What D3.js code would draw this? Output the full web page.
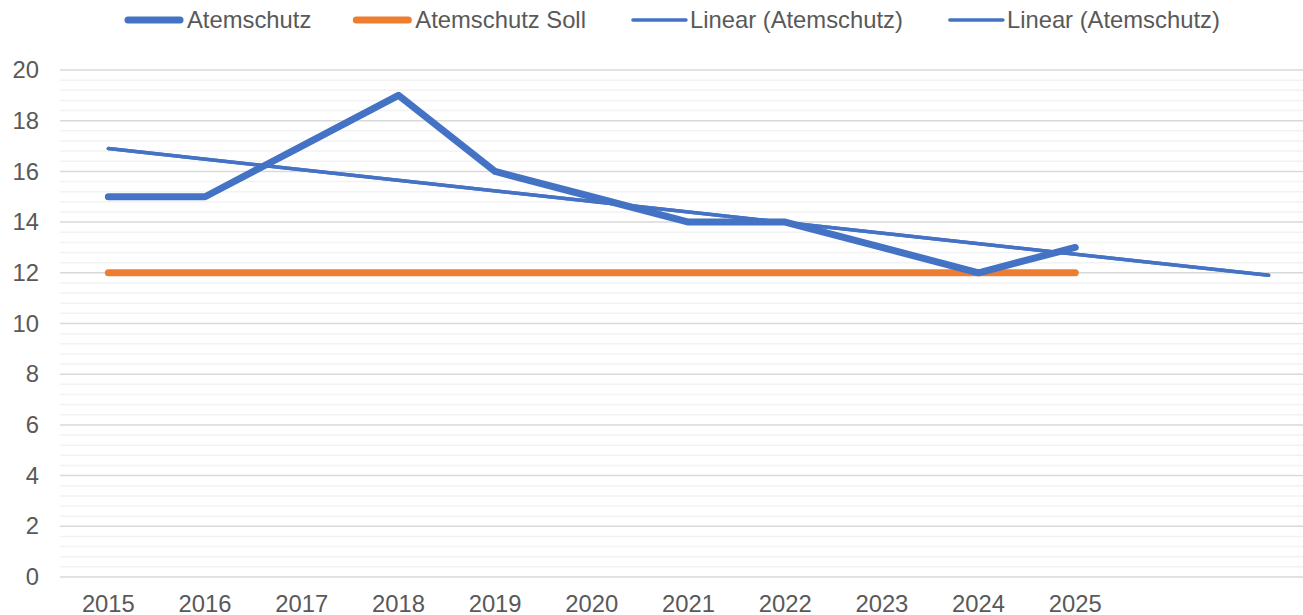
<!DOCTYPE html>
<html>
<head>
<meta charset="utf-8">
<script src="https://cdn.jsdelivr.net/npm/d3@7"></script>
<style>
  body { margin: 0; background: #fff; }
  text { font-family: "Liberation Sans", Arial, sans-serif; fill: #595959; }
</style>
</head>
<body>
<div id="chart"></div>
<script>
// categories (two empty periods at the end for the trend forecast)
var years = ["2015", "2016", "2017", "2018", "2019", "2020", "2021", "2022", "2023", "2024", "2025", "", ""];

// series values
var atemschutz = [15, 15, 17, 19, 16, 15, 14, 14, 13, 12, 13];
var atemschutzSoll = [12, 12, 12, 12, 12, 12, 12, 12, 12, 12, 12];

// linear trend endpoints (first and last category)
var trendStart = 16.9, trendEnd = 11.9;

var yTicks = [0, 2, 4, 6, 8, 10, 12, 14, 16, 18, 20];
var legendNames = ["Atemschutz", "Atemschutz Soll", "Linear (Atemschutz)", "Linear (Atemschutz)"];

var W = 1303, H = 615;
var blue = "#4472C4", orange = "#ED7D31";
var fontSize = "23.8px";

var svg = d3.select("#chart").append("svg")
    .attr("width", W)
    .attr("height", H);

// plot area runs past the right edge of the picture
var x = d3.scaleBand().domain(d3.range(years.length)).range([60, 1317]);
var y = d3.scaleLinear().domain([0, 20]).range([577, 70]);
var cx = i => x(i) + x.bandwidth() / 2;

// minor gridlines
var minor = d3.range(0, 20.01, 0.4).filter(v => Math.abs(v / 2 - Math.round(v / 2)) > 1e-6);
svg.append("g").selectAll("line")
    .data(minor).enter().append("line")
    .attr("x1", 60).attr("x2", W)
    .attr("y1", d => y(d)).attr("y2", d => y(d))
    .attr("stroke", "#f2f2f2")
    .attr("stroke-width", 1.5);

// major gridlines
svg.append("g").selectAll("line")
    .data(yTicks).enter().append("line")
    .attr("x1", 60).attr("x2", W)
    .attr("y1", d => y(d)).attr("y2", d => y(d))
    .attr("stroke", "#d9d9d9")
    .attr("stroke-width", 1.5);

// y axis labels
var yAxis = svg.append("g")
    .attr("transform", "translate(48,0)")
    .call(d3.axisLeft(y).tickValues(yTicks).tickSize(0).tickPadding(9));
yAxis.select(".domain").remove();
yAxis.selectAll("text")
    .style("font-size", fontSize)
    .style("font-family", "Liberation Sans, Arial, sans-serif")
    .attr("fill", "#595959");

// x axis labels
var xAxis = svg.append("g")
    .attr("transform", "translate(0,589)")
    .call(d3.axisBottom(x).tickFormat(i => years[i]).tickSize(0).tickPadding(6));
xAxis.select(".domain").remove();
xAxis.selectAll("text")
    .style("font-size", fontSize)
    .style("font-family", "Liberation Sans, Arial, sans-serif")
    .attr("fill", "#595959");

var line = d3.line()
    .x((d, i) => cx(i))
    .y(d => y(d));

// soll line
svg.append("path")
    .datum(atemschutzSoll)
    .attr("d", line)
    .attr("fill", "none")
    .attr("stroke", orange)
    .attr("stroke-width", 7)
    .attr("stroke-linecap", "round")
    .attr("stroke-linejoin", "round");

// actual values
svg.append("path")
    .datum(atemschutz)
    .attr("d", line)
    .attr("fill", "none")
    .attr("stroke", blue)
    .attr("stroke-width", 7)
    .attr("stroke-linecap", "round")
    .attr("stroke-linejoin", "round");

// two identical linear trend lines
var trends = [[trendStart, trendEnd], [trendStart, trendEnd]];
svg.append("g").selectAll("line")
    .data(trends).enter().append("line")
    .attr("x1", cx(0)).attr("x2", cx(years.length - 1))
    .attr("y1", d => y(d[0])).attr("y2", d => y(d[1]))
    .attr("stroke", blue)
    .attr("stroke-width", 3.5)
    .attr("stroke-linecap", "round");

// legend
var legend = svg.append("g");
var lx = 125;
legendNames.forEach(function(name, i) {
    var g = legend.append("g").attr("transform", `translate(${lx},20)`);
    var thick = i < 2;
    g.append("line")
        .attr("x1", thick ? 3 : 5).attr("x2", thick ? 55 : 58)
        .attr("y1", 0).attr("y2", 0)
        .attr("stroke", i == 1 ? orange : blue)
        .attr("stroke-width", thick ? 7 : 3.5)
        .attr("stroke-linecap", "round");
    var t = g.append("text")
        .attr("x", 62)
        .attr("y", 8)
        .style("font-size", fontSize)
        .text(name);
    lx += 62 + t.node().getComputedTextLength() + 42;
});
</script>
</body>
</html>
